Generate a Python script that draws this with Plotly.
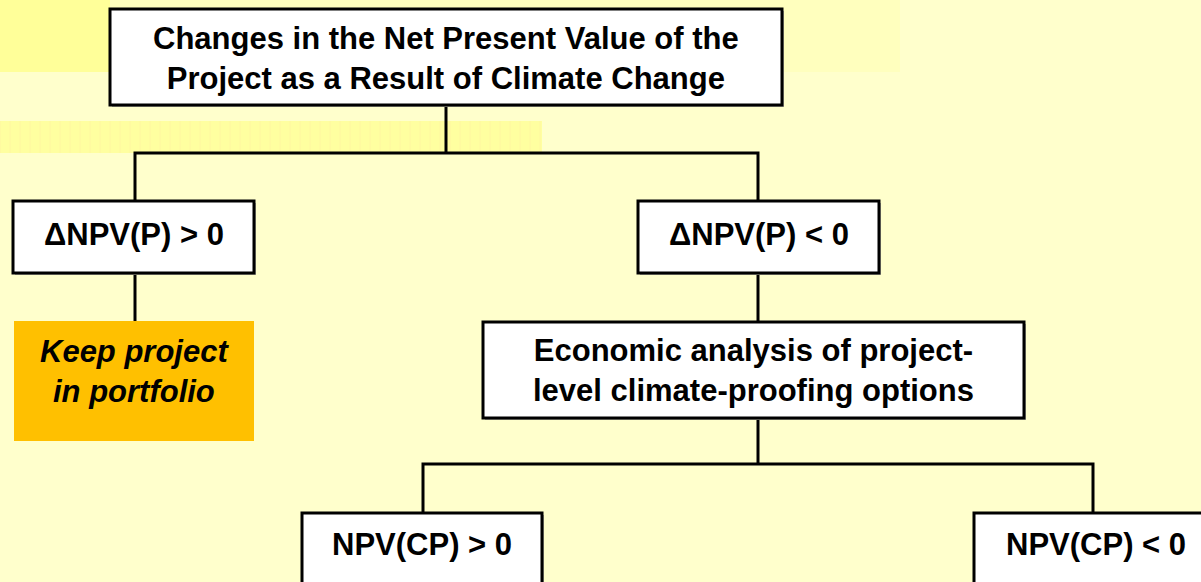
import plotly.graph_objects as go

# node texts of the decision tree
box_labels = [
    "Changes in the Net Present Value of the<br>Project as a Result of Climate Change",
    "ΔNPV(P) > 0",
    "ΔNPV(P) < 0",
    "<i>Keep project<br>in portfolio</i>",
    "Economic analysis of project-<br>level climate-proofing options",
    "NPV(CP) > 0",
    "NPV(CP) < 0",
]
box_kind = ["plain", "plain", "plain", "outcome", "plain", "plain", "plain"]

# layout of the boxes in pixel space: x0, x1, y0, y1, text y
box_geom = [
    (110, 782, 9, 105, 58),
    (13, 254, 201, 273, 234),
    (638, 879, 201, 273, 234),
    (14, 254, 321, 441, 371),
    (483, 1024, 322, 418, 370),
    (302, 542, 513, 610, 544),
    (974, 1215, 513, 610, 544),
]

# connector paths (x list, y list)
conn_x = [446, 446, None, 135, 135, 758, 758, None, 135, 135, None, 758, 758, None,
          758, 758, None, 423, 423, 1093, 1093]
conn_y = [105, 153, None, 201, 153, 153, 201, None, 273, 321, None, 273, 322, None,
          418, 464, None, 513, 464, 464, 513]

W, H = 1201, 582
fig = go.Figure()

shapes = [
    # background bands
    dict(type="rect", x0=0, x1=110, y0=0, y1=72, fillcolor="#FFFF99", line_width=0, layer="below"),
    dict(type="rect", x0=110, x1=900, y0=0, y1=72, fillcolor="#FFFFBE", line_width=0, layer="below"),
    dict(type="rect", x0=0, x1=542, y0=121, y1=153, fillcolor="#FFFFA0", line_width=0, layer="below"),
]
for i in range(0, 542, 10):
    shapes.append(dict(type="line", x0=i, x1=i, y0=121, y1=153,
                       line=dict(color="#FFF6A0", width=1), layer="below"))

fig.add_trace(go.Scatter(x=conn_x, y=conn_y, mode="lines", line=dict(color="black", width=3),
                         hoverinfo="skip", showlegend=False))

for lab, kind, (x0, x1, y0, y1, ty) in zip(box_labels, box_kind, box_geom):
    if kind == "outcome":
        shapes.append(dict(type="rect", x0=x0, x1=x1, y0=y0, y1=y1,
                           fillcolor="#FFC000", line_width=0, layer="above"))
    else:
        shapes.append(dict(type="rect", x0=x0 + 2, x1=x1 + 2, y0=y0 + 2, y1=y1 + 2,
                           fillcolor="#B0B0A0", line_width=0, layer="above"))
        shapes.append(dict(type="rect", x0=x0, x1=x1, y0=y0, y1=y1,
                           fillcolor="white", line=dict(color="black", width=3), layer="above"))
    fig.add_annotation(x=(x0 + x1) / 2 if x1 < W else (x0 + 1217) / 2, y=ty,
                       text="<b>" + lab + "</b>", showarrow=False,
                       font=dict(family="Liberation Sans, Arial", size=31, color="black"),
                       xanchor="center", yanchor="middle", align="center")

fig.update_layout(
    width=W, height=H,
    margin=dict(l=0, r=0, t=0, b=0),
    paper_bgcolor="#FFFFCC",
    plot_bgcolor="#FFFFCC",
    shapes=shapes,
    showlegend=False,
    xaxis=dict(range=[0, W], visible=False, fixedrange=True),
    yaxis=dict(range=[H, 0], visible=False, fixedrange=True),
)

fig.write_html("out.html", config={"displayModeBar": False},
               post_script="document.body.style.margin='0';")
